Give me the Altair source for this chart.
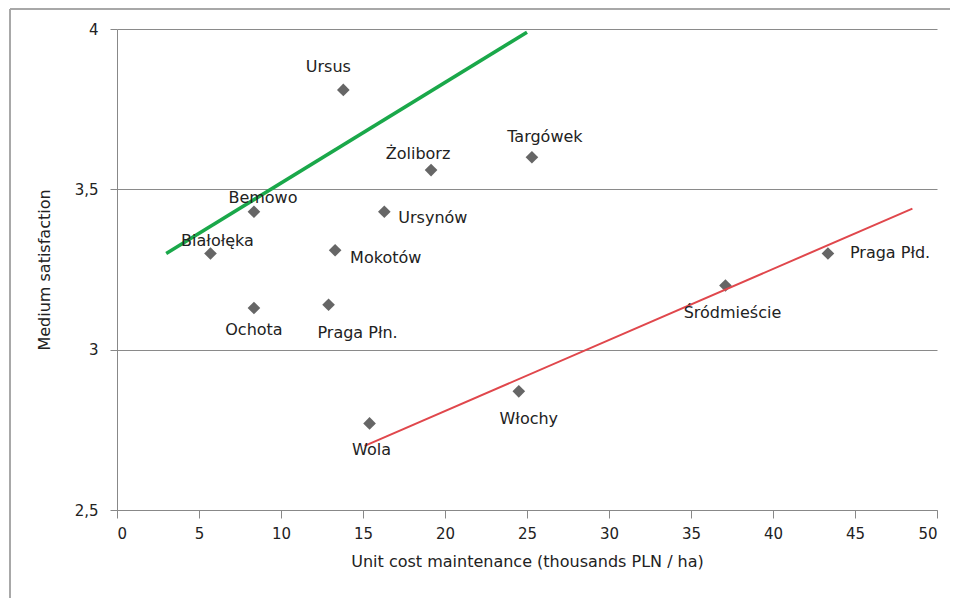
import altair as alt
import pandas as pd

districts = ["Ursus", "Żoliborz", "Targówek", "Bemowo", "Ursynów", "Białołęka",
             "Mokotów", "Ochota", "Praga Płn.", "Praga Płd.", "Śródmieście", "Włochy", "Wola"]
cost = [13.8, 19.15, 25.3, 8.35, 16.3, 5.7, 13.3, 8.35, 12.9, 43.35, 37.1, 24.5, 15.4]
satisfaction = [3.81, 3.56, 3.60, 3.43, 3.43, 3.30, 3.31, 3.13, 3.14, 3.30, 3.20, 2.87, 2.77]

green_x = [3.0, 25.0]
green_y = [3.30, 3.99]
red_x = [15.1, 48.5]
red_y = [2.70, 3.44]

# label placement (pixel offsets, align)
label_style = {
    "Ursus": (-15, -23, "center"),
    "Żoliborz": (-13, -16, "center"),
    "Targówek": (13, -20, "center"),
    "Bemowo": (9, -14, "center"),
    "Ursynów": (14, 6, "left"),
    "Białołęka": (7, -12, "center"),
    "Mokotów": (15, 8, "left"),
    "Ochota": (0, 22, "center"),
    "Praga Płn.": (29, 28, "center"),
    "Praga Płd.": (22, 0, "left"),
    "Śródmieście": (7, 27, "center"),
    "Włochy": (10, 28, "center"),
    "Wola": (2, 27, "center"),
}

df = pd.DataFrame({"district": districts, "cost": cost, "sat": satisfaction})
gdf = pd.DataFrame({"cost": green_x, "sat": green_y})
rdf = pd.DataFrame({"cost": red_x, "sat": red_y})

FONT = "DejaVu Sans"
FS = 16

xs = alt.Scale(domain=[0, 50], nice=False, zero=False)
ys = alt.Scale(domain=[2.5, 4], nice=False, zero=False)

xenc = alt.X("cost:Q", scale=xs, axis=alt.Axis(
    title="Unit cost maintenance (thousands PLN / ha)", values=list(range(0, 51, 5)),
    grid=False, tickSize=8, labelPadding=8, titlePadding=12,
    domainColor="#888888", tickColor="#888888", labelFont=FONT, labelFontSize=15,
    labelColor="#222222", titleFont=FONT, titleFontSize=FS, titleFontWeight="normal",
    titleColor="#222222"))
yenc = alt.Y("sat:Q", scale=ys, axis=alt.Axis(
    title="Medium satisfaction", values=[2.5, 3, 3.5, 4],
    labelExpr="replace(format(datum.value, '.1~f'), '.', ',')",
    grid=True, gridColor="#8a8a8a", gridWidth=1, tickSize=7, labelPadding=12,
    titlePadding=22, domainColor="#888888", tickColor="#888888", labelFont=FONT,
    labelFontSize=15, labelColor="#222222", titleFont=FONT, titleFontSize=FS,
    titleFontWeight="normal", titleColor="#222222"))

base_points = alt.Chart(df).mark_point(shape="diamond", filled=True, size=160,
                                       color="#666666", opacity=1).encode(x=xenc, y=yenc)

green = alt.Chart(gdf).mark_line(color="#1aa84a", strokeWidth=3.5).encode(x="cost:Q", y="sat:Q")
red = alt.Chart(rdf).mark_line(color="#e0474c", strokeWidth=2).encode(x="cost:Q", y="sat:Q")

labels = []
for name, (dx, dy, align) in label_style.items():
    labels.append(
        alt.Chart(df).transform_filter(alt.datum.district == name)
        .mark_text(dx=dx, dy=dy, align=align, baseline="middle", font=FONT,
                   fontSize=FS, color="#222222")
        .encode(x="cost:Q", y="sat:Q", text="district:N")
    )

frame_top = alt.Chart(df).mark_rule(color="#a8a8a8", strokeWidth=2, clip=False).encode(
    x=alt.value(-107), x2=alt.value(845), y=alt.value(-20))
frame_left = alt.Chart(df).mark_rule(color="#a8a8a8", strokeWidth=2, clip=False).encode(
    x=alt.value(-107), y=alt.value(-20), y2=alt.value(585))

chart = alt.layer(base_points, green, red, *labels, frame_top, frame_left).properties(
    width=820, height=481,
    autosize=alt.AutoSizeParams(type="none"),
    padding={"left": 109, "top": 21, "right": 13, "bottom": 88},
    background="white",
).configure_view(stroke=None)

chart.save("out.html", embed_options={"renderer": "svg", "actions": False})
